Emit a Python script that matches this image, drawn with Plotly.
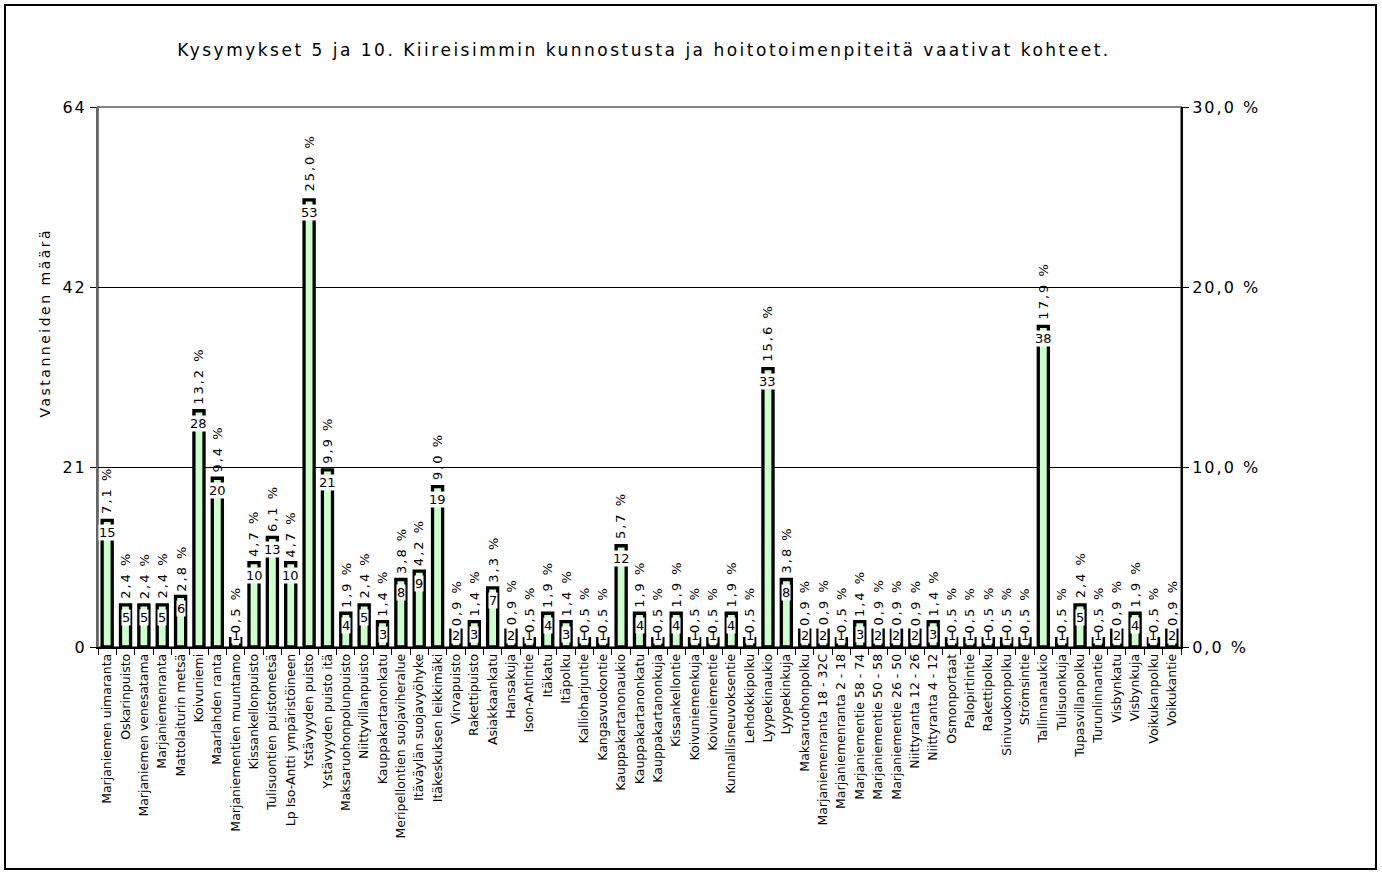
import plotly.graph_objects as go

categories = [
    "Marjaniemen uimaranta", "Oskarinpuisto", "Marjaniemen venesatama", "Marjaniemenranta",
    "Mattolaiturin metsä", "Koivuniemi", "Maarlahden ranta", "Marjaniementien muuntamo",
    "Kissankellonpuisto", "Tulisuontien puistometsä", "Lp Iso-Antti ympäristöineen",
    "Ystävyyden puisto", "Ystävyyden puisto itä", "Maksaruohonpolunpuisto", "Niittyvillanpuisto",
    "Kauppakartanonkatu", "Meripellontien suojaviheralue", "Itäväylän suojavyöhyke",
    "Itäkeskuksen leikkimäki", "Virvapuisto", "Rakettipuisto", "Asiakkaankatu", "Hansakuja",
    "Ison-Antintie", "Itäkatu", "Itäpolku", "Kallioharjuntie", "Kangasvuokontie",
    "Kauppakartanonaukio", "Kauppakartanonkatu", "Kauppakartanonkuja", "Kissankellontie",
    "Koivuniemenkuja", "Koivuniementie", "Kunnallisneuvoksentie", "Lehdokkipolku",
    "Lyypekinaukio", "Lyypekinkuja", "Maksaruohonpolku", "Marjaniemenranta 18 - 32C",
    "Marjaniemenranta 2 - 18", "Marjaniementie 58 - 74", "Marjaniementie 50 - 58",
    "Marjaniementie 26 - 50", "Niittyranta 12 - 26", "Niittyranta 4 - 12", "Osmonportaat",
    "Palopirtintie", "Rakettipolku", "Sinivuokonpolku", "Strömsintie", "Tallinnanaukio",
    "Tulisuonkuja", "Tupasvillanpolku", "Turunlinnantie", "Visbynkatu", "Visbynkuja",
    "Voikukanpolku", "Voikukantie",
]

counts = [15, 5, 5, 5, 6, 28, 20, 1, 10, 13, 10, 53, 21, 4, 5, 3, 8, 9, 19, 2, 3, 7, 2, 1, 4, 3,
          1, 1, 12, 4, 1, 4, 1, 1, 4, 1, 33, 8, 2, 2, 1, 3, 2, 2, 2, 3, 1, 1, 1, 1, 1, 38, 1, 5,
          1, 2, 4, 1, 2]

percents = [7.1, 2.4, 2.4, 2.4, 2.8, 13.2, 9.4, 0.5, 4.7, 6.1, 4.7, 25.0, 9.9, 1.9, 2.4, 1.4,
            3.8, 4.2, 9.0, 0.9, 1.4, 3.3, 0.9, 0.5, 1.9, 1.4, 0.5, 0.5, 5.7, 1.9, 0.5, 1.9, 0.5,
            0.5, 1.9, 0.5, 15.6, 3.8, 0.9, 0.9, 0.5, 1.4, 0.9, 0.9, 0.9, 1.4, 0.5, 0.5, 0.5, 0.5,
            0.5, 17.9, 0.5, 2.4, 0.5, 0.9, 1.9, 0.5, 0.9]

left_ticks = [0, 21, 42, 64]
right_ticks = ["0,0 %", "10,0 %", "20,0 %", "30,0 %"]

title_text = "Kysymykset 5 ja 10. Kiireisimmin kunnostusta ja hoitotoimenpiteitä vaativat kohteet."
ytitle = "Vastanneiden määrä"

FONT = "DejaVu Sans"
W, H = 1382, 875
L, R, T, B = 98, 1181, 107, 647
PCT_SPACING = 2.0

xs = list(range(len(categories)))

fig = go.Figure()
fig.add_trace(go.Bar(
    x=xs, y=counts, width=0.55,
    marker=dict(color="#CCFFCC", line=dict(color="black", width=3.3)),
    hoverinfo="skip", showlegend=False,
))
fig.add_trace(go.Scatter(
    x=xs, y=percents, yaxis="y2", mode="markers",
    marker=dict(opacity=0), hoverinfo="skip", showlegend=False,
))

ann = []
for x, c, p in zip(xs, counts, percents):
    ann.append(dict(
        x=x, y=max(c, 2.8), xref="x", yref="y", yanchor="top", xanchor="center",
        yshift=-4, text=str(c), showarrow=False, bgcolor="white", borderpad=0,
        font=dict(family=FONT, size=13, color="black"),
    ))
    ptxt = f"{p:.1f}".replace(".", ",") + " %"
    ann.append(dict(
        x=x, y=p, xref="x", yref="y2", yanchor="bottom", xanchor="center",
        yshift=3 + len(ptxt) * PCT_SPACING / 2, text=ptxt, textangle=-90,
        showarrow=False, font=dict(family=FONT, size=13, color="black"),
    ))

ann.append(dict(
    x=(45 - L) / (R - L), y=(B - 323) / (B - T), xref="paper", yref="paper", text=ytitle,
    textangle=-90, showarrow=False, xanchor="center", yanchor="middle",
    font=dict(family=FONT, size=14, color="black"),
))

shapes = [
    dict(type="rect", xref="paper", yref="paper", x0=0, x1=1, y0=0, y1=1,
         line=dict(color="#808080", width=2), layer="below"),
    dict(type="rect", xref="paper", yref="paper",
         x0=(5 - L) / (R - L), x1=(1376 - L) / (R - L),
         y0=(B - 869) / (B - T), y1=(B - 5) / (B - T),
         line=dict(color="black", width=2)),
]

fig.update_layout(
    width=W, height=H,
    margin=dict(l=L, r=W - R, t=T, b=H - B),
    paper_bgcolor="white", plot_bgcolor="white",
    font=dict(family=FONT, color="black"),
    title=dict(text=title_text, x=644 / W, xanchor="center", y=1 - 50 / H, yanchor="middle",
               font=dict(family=FONT, size=17, color="black")),
    xaxis=dict(
        range=[-0.5, len(categories) - 0.5], tickvals=xs, ticktext=categories,
        tickangle=-90, ticks="", showgrid=False, showline=True, linecolor="black", linewidth=1.5,
        tickfont=dict(family=FONT, size=12.5, color="black"), zeroline=False,
        minor=dict(tickvals=[i - 0.5 for i in range(len(categories) + 1)], ticks="outside",
                   ticklen=6, tickcolor="black", tickwidth=1, showgrid=False),
    ),
    yaxis=dict(
        range=[0, 64], tickvals=[0, 64 / 3, 128 / 3, 64], ticktext=[str(t) for t in left_ticks],
        showgrid=True, gridcolor="black", gridwidth=1, zeroline=False,
        showline=True, linecolor="#666666", linewidth=2, ticks="outside", ticklen=6,
        tickcolor="black", tickfont=dict(family=FONT, size=16, color="black"),
    ),
    yaxis2=dict(
        range=[0, 30], tickvals=[0, 10, 20, 30], ticktext=right_ticks, overlaying="y",
        side="right", showgrid=False, zeroline=False, showline=True, linecolor="black",
        linewidth=2, ticks="outside", ticklen=6, tickcolor="black",
        tickfont=dict(family=FONT, size=16, color="black"),
    ),
    annotations=ann, shapes=shapes, bargap=0.45,
)

post = """
document.body.style.margin = '0';
var gd = document.getElementById('{plot_id}');
function spacing() {
  gd.querySelectorAll('.gtitle').forEach(function(e){ e.style.letterSpacing = '2.5px'; });
  gd.querySelectorAll('.ytick text, .y2tick text').forEach(function(e){ e.style.letterSpacing = '2px'; });
  gd.querySelectorAll('.annotation-text').forEach(function(e){
    var t = e.textContent;
    if (t.indexOf('%') >= 0) { e.style.letterSpacing = '%SPpx'; }
    else if (t.length > 5) { e.style.letterSpacing = '2.5px'; }
  });
}
spacing();
gd.on('plotly_afterplot', spacing);
""".replace("%SP", str(PCT_SPACING))

fig.write_html("out.html", post_script=post, config={"displayModeBar": False})
